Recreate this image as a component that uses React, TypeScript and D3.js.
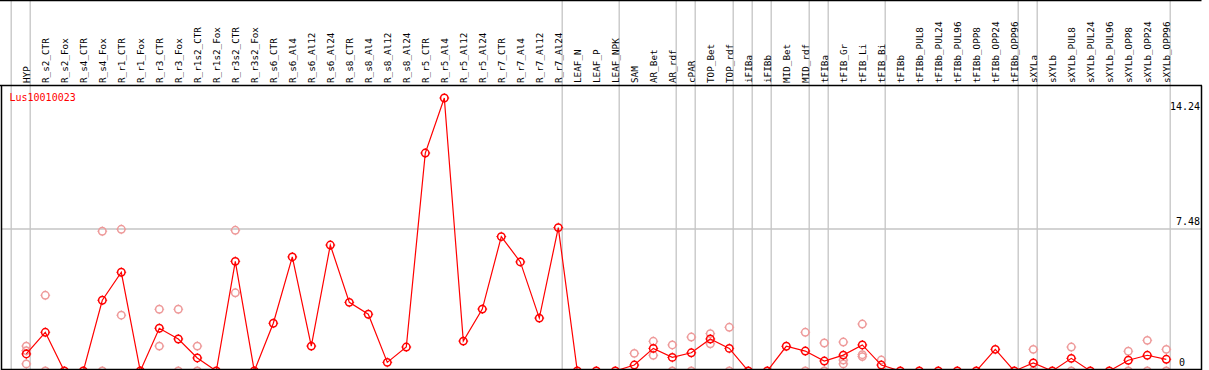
import React from "react";
import * as d3 from "d3";

const geneName = "Lus10010023";

const categories: string[] = [
  "HYP", "R_s2_CTR", "R_s2_Fox", "R_s4_CTR", "R_s4_Fox", "R_r1_CTR", "R_r1_Fox",
  "R_r3_CTR", "R_r3_Fox", "R_r1s2_CTR", "R_r1s2_Fox", "R_r3s2_CTR", "R_r3s2_Fox",
  "R_s6_CTR", "R_s6_Al4", "R_s6_Al12", "R_s6_Al24", "R_s8_CTR", "R_s8_Al4",
  "R_s8_Al12", "R_s8_Al24", "R_r5_CTR", "R_r5_Al4", "R_r5_Al12", "R_r5_Al24",
  "R_r7_CTR", "R_r7_Al4", "R_r7_Al12", "R_r7_Al24", "LEAF_N", "LEAF_P", "LEAF_NPK",
  "SAM", "AR_Bet", "AR_rdf", "cPAR", "TOP_Bet", "TOP_rdf", "iFIBa", "iFIBb",
  "MID_Bet", "MID_rdf", "tFIBa", "tFIB_Gr", "tFIB_Li", "tFIB_Bi", "tFIBb",
  "tFIBb_PUL8", "tFIBb_PUL24", "tFIBb_PUL96", "tFIBb_OPP8", "tFIBb_OPP24", "tFIBb_OPP96",
  "sXYLa", "sXYLb", "sXYLb_PUL8", "sXYLb_PUL24", "sXYLb_PUL96", "sXYLb_OPP8",
  "sXYLb_OPP24", "sXYLb_OPP96",
];

const meanValues: number[] = [
  0.89, 2.02, 0, 0, 3.69, 5.15, 0, 2.23, 1.67, 0.68, 0, 5.72, 0,
  2.49, 5.95, 1.30, 6.57, 3.58, 2.96, 0.45, 1.25, 11.37, 14.24, 1.56, 3.23,
  7.01, 5.69, 2.76, 7.48, 0, 0, 0,
  0.31, 1.18, 0.71, 0.95, 1.67, 1.18, 0, 0,
  1.29, 1.04, 0.52, 0.83, 1.36, 0.31, 0,
  0, 0, 0, 0, 1.13, 0,
  0.42, 0, 0.66, 0, 0, 0.56, 0.82, 0.61,
];

const replicateValues: number[][] = [
  [1.30, 1.06, 0.37], [3.95, 0], [], [], [7.29, 0], [7.39, 2.91], [],
  [3.22, 1.30], [3.22, 0], [1.30, 0], [], [7.34, 4.08], [],
  [], [], [], [], [], [], [], [], [], [], [], [],
  [], [], [], [], [], [], [],
  [0.92], [1.55, 0.82], [1.36, 0], [1.77, 0], [1.95, 1.42], [2.28, 0], [], [],
  [], [2.02, 0], [1.46, 0], [1.51, 0.57, 0.37], [2.45, 0.85, 0.75], [0.57], [],
  [], [], [], [], [], [],
  [1.13, 0], [], [1.25, 0], [], [], [1.03, 0], [1.60, 0], [1.13, 0],
];

// indices after which a group separator is drawn
const groupEnds: number[] = [0, 28, 31, 34, 35, 37, 38, 39, 41, 42, 45, 52, 53, 60];

const axisTicks: number[] = [0, 7.48, 14.24];

const W = 1209;
const H = 370;
const RED = "#ff0000";
const PINK = "#ee9a9a";
const GRID = "#c4c4c4";
const FONT = "'DejaVu Sans Mono', monospace";

function Marker({ x, y, color }: { x: number; y: number; color: string }) {
  const r = 3.7;
  const t = 4.9;
  return (
    <g>
      <circle cx={x} cy={y} r={r} fill="none" stroke={color} strokeWidth={1.5} />
      <line x1={x} x2={x} y1={y - r} y2={y - t} stroke={color} strokeWidth={1} />
      <line x1={x} x2={x} y1={y + r} y2={y + t} stroke={color} strokeWidth={1} />
      <line x1={x - r} x2={x - t} y1={y} y2={y} stroke={color} strokeWidth={1} />
      <line x1={x + r} x2={x + t} y1={y} y2={y} stroke={color} strokeWidth={1} />
    </g>
  );
}

export default function App() {
  const band = d3
    .scaleBand<string>()
    .domain(categories)
    .range([11.7, 11.7 + 19 * categories.length])
    .padding(0);
  const pointOffset = 14.6;
  const cx = (i: number) => (band(categories[i]) as number) + pointOffset;

  const y = d3.scaleLinear().domain([0, 14.24]).range([371, 98]);

  const line = d3
    .line<number>()
    .x((_, i) => cx(i))
    .y((d) => y(d));

  const headerY = 85.5;
  const leftX = 1.5;
  const rightX = 1201.5;
  const bottomY = 369.5;

  return (
    <svg
      width={W}
      height={H}
      style={{ position: "absolute", left: 0, top: 0, background: "#fff" }}
    >
      <rect x={0} y={0} width={W} height={H} fill="#fff" />
      {/* group separators */}
      <line x1={11.2} x2={11.2} y1={0} y2={H} stroke={GRID} strokeWidth={1.3} />
      {groupEnds.map((i) => {
        const gx = (band(categories[i]) as number) + band.bandwidth() - 0.5;
        return <line key={i} x1={gx} x2={gx} y1={0} y2={H} stroke={GRID} strokeWidth={1.3} />;
      })}
      {/* horizontal gridline at middle tick */}
      <line x1={leftX} x2={rightX} y1={229} y2={229} stroke={GRID} strokeWidth={1.3} />

      {/* replicates */}
      {replicateValues.map((reps, i) =>
        reps.map((v, j) => <Marker key={`${i}-${j}`} x={cx(i)} y={y(v)} color={PINK} />)
      )}
      {/* mean line */}
      <path d={line(meanValues) || ""} fill="none" stroke={RED} strokeWidth={1.2} />
      {meanValues.map((v, i) => (
        <Marker key={i} x={cx(i)} y={y(v)} color={RED} />
      ))}

      {/* frame */}
      <line x1={0} x2={rightX} y1={0.5} y2={0.5} stroke="#000" strokeWidth={1.3} />
      <line x1={0} x2={rightX + 0.5} y1={headerY} y2={headerY} stroke="#000" strokeWidth={1.3} />
      <line x1={leftX} x2={leftX} y1={headerY} y2={H} stroke="#000" strokeWidth={1.5} />
      <line x1={rightX} x2={rightX} y1={headerY} y2={H} stroke="#000" strokeWidth={1.5} />
      <line x1={leftX} x2={rightX} y1={bottomY} y2={bottomY} stroke="#000" strokeWidth={1.5} />

      {/* column labels */}
      {categories.map((c, i) => (
        <text
          key={c}
          transform={`translate(${cx(i) + 3.2},83) rotate(-90)`}
          fontFamily={FONT}
          fontSize={9.3}
          fill="#000"
        >
          {c}
        </text>
      ))}

      {/* gene name */}
      <text x={9.5} y={100.5} fontFamily={FONT} fontSize={10} fill={RED}>
        {geneName}
      </text>

      {/* right axis labels */}
      <text x={1200} y={110} textAnchor="end" fontFamily={FONT} fontSize={10} fill="#000">
        {axisTicks[2].toFixed(2)}
      </text>
      <text x={1200} y={225} textAnchor="end" fontFamily={FONT} fontSize={10} fill="#000">
        {axisTicks[1].toFixed(2)}
      </text>
      <text x={1179} y={366} fontFamily={FONT} fontSize={10} fill="#000">
        {String(axisTicks[0])}
      </text>
    </svg>
  );
}
